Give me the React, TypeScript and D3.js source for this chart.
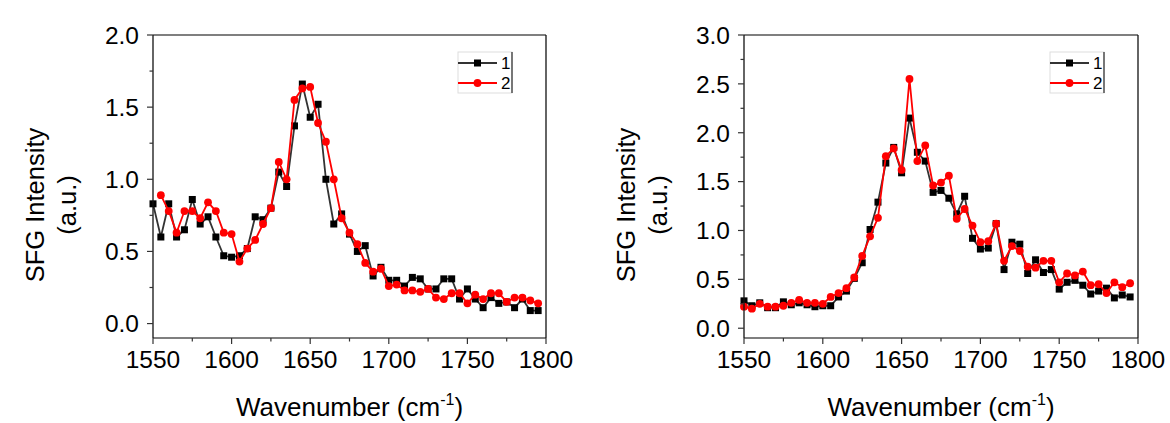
import React from "react";
import * as d3 from "d3";

const wavenumbers = [1550, 1555, 1560, 1565, 1570, 1575, 1580, 1585, 1590, 1595, 1600, 1605, 1610, 1615, 1620, 1625, 1630, 1635, 1640, 1645, 1650, 1655, 1660, 1665, 1670, 1675, 1680, 1685, 1690, 1695, 1700, 1705, 1710, 1715, 1720, 1725, 1730, 1735, 1740, 1745, 1750, 1755, 1760, 1765, 1770, 1775, 1780, 1785, 1790, 1795];

// Left panel
const leftSeries1 = [0.83, 0.60, 0.83, 0.60, 0.65, 0.86, 0.69, 0.74, 0.60, 0.47, 0.46, 0.47, 0.52, 0.74, 0.72, 0.80, 1.05, 0.95, 1.37, 1.66, 1.43, 1.52, 1.00, 0.69, 0.76, 0.62, 0.50, 0.54, 0.33, 0.39, 0.30, 0.30, 0.26, 0.32, 0.31, 0.24, 0.24, 0.31, 0.31, 0.17, 0.24, 0.17, 0.11, 0.18, 0.14, 0.15, 0.11, 0.17, 0.09, 0.09];
// starts at 1555
const leftSeries2 = [null, 0.89, 0.78, 0.63, 0.78, 0.78, 0.73, 0.84, 0.78, 0.63, 0.62, 0.43, 0.52, 0.58, 0.69, 0.80, 1.12, 1.00, 1.55, 1.63, 1.64, 1.39, 1.26, 1.00, 0.73, 0.63, 0.55, 0.42, 0.36, 0.38, 0.26, 0.27, 0.23, 0.23, 0.22, 0.24, 0.18, 0.17, 0.21, 0.21, 0.14, 0.20, 0.17, 0.21, 0.21, 0.15, 0.18, 0.18, 0.16, 0.14];

// Right panel
const rightSeries1 = [0.28, 0.23, 0.26, 0.21, 0.21, 0.27, 0.24, 0.26, 0.24, 0.22, 0.23, 0.23, 0.32, 0.38, 0.51, 0.67, 1.01, 1.29, 1.69, 1.85, 1.59, 2.15, 1.80, 1.71, 1.39, 1.41, 1.33, 1.17, 1.35, 0.92, 0.81, 0.82, 1.07, 0.60, 0.88, 0.86, 0.56, 0.70, 0.57, 0.60, 0.40, 0.47, 0.49, 0.44, 0.35, 0.38, 0.41, 0.31, 0.34, 0.32];
const rightSeries2 = [0.22, 0.20, 0.25, 0.22, 0.22, 0.23, 0.26, 0.29, 0.26, 0.26, 0.25, 0.32, 0.36, 0.41, 0.52, 0.74, 0.94, 1.13, 1.76, 1.84, 1.62, 2.55, 1.71, 1.87, 1.46, 1.49, 1.56, 1.12, 1.22, 1.05, 0.88, 0.89, 1.07, 0.69, 0.84, 0.79, 0.63, 0.62, 0.69, 0.69, 0.47, 0.56, 0.54, 0.58, 0.44, 0.45, 0.36, 0.47, 0.42, 0.46];

const xTicks = [1550, 1600, 1650, 1700, 1750, 1800];
const xMinorTicks = [1575, 1625, 1675, 1725, 1775];
const leftYTicks = [0.0, 0.5, 1.0, 1.5, 2.0];
const leftYMinor = [0.25, 0.75, 1.25, 1.75];
const rightYTicks = [0.0, 0.5, 1.0, 1.5, 2.0, 2.5, 3.0];
const rightYMinor = [0.25, 0.75, 1.25, 1.75, 2.25, 2.75];
const seriesNames = ["1", "2"];

const FONT = "'Liberation Sans', Arial, sans-serif";
const BLACK_LINE = "#333333";
const RED = "#ff0000";

type PanelProps = {
  left: number;
  right: number;
  top: number;
  bottom: number;
  yMax: number;
  yTicks: number[];
  yMinor: number[];
  s1: (number | null)[];
  s2: (number | null)[];
};

function Panel({ left, right, top, bottom, yMax, yTicks, yMinor, s1, s2 }: PanelProps) {
  const x = d3.scaleLinear().domain([1550, 1800]).range([left, right]);
  const y = d3.scaleLinear().domain([-0.1, yMax]).range([bottom, top]);
  const pts = (s: (number | null)[]) =>
    wavenumbers.map((w, i) => ({ w, v: s[i] })).filter((d) => d.v !== null && d.v !== undefined) as { w: number; v: number }[];
  const p1 = pts(s1);
  const p2 = pts(s2);
  const line = d3
    .line<{ w: number; v: number }>()
    .x((d) => x(d.w))
    .y((d) => y(d.v));
  const cx = (left + right) / 2;
  const titleCy = 205;
  const legRight = right - 34;
  const legLeft = legRight - 54;
  return (
    <g>
      {/* series 1 */}
      <path d={line(p1) || ""} fill="none" stroke={BLACK_LINE} strokeWidth={1.8} />
      {p1.map((d, i) => (
        <rect key={"s" + i} x={x(d.w) - 3.5} y={y(d.v) - 3.5} width={7} height={7} fill="#000" />
      ))}
      {/* series 2 */}
      <path d={line(p2) || ""} fill="none" stroke={RED} strokeWidth={1.8} />
      {p2.map((d, i) => (
        <circle key={"c" + i} cx={x(d.w)} cy={y(d.v)} r={3.9} fill={RED} />
      ))}

      {/* frame */}
      <line x1={left} x2={right} y1={top} y2={top} stroke="#555" strokeWidth={1.6} />
      <line x1={left} x2={right} y1={bottom} y2={bottom} stroke="#555" strokeWidth={1.6} />
      <line x1={left} x2={left} y1={top} y2={bottom} stroke="#111" strokeWidth={1.3} />
      <line x1={right} x2={right} y1={top} y2={bottom} stroke="#111" strokeWidth={1.3} />

      {/* x ticks */}
      {xTicks.map((t) => (
        <g key={"xt" + t}>
          <line x1={x(t)} x2={x(t)} y1={bottom} y2={bottom + 6} stroke="#333" strokeWidth={1.2} />
          <text x={x(t)} y={368} textAnchor="middle" fontSize={24.5} fontFamily={FONT} fill="#000">
            {t}
          </text>
        </g>
      ))}
      {xMinorTicks.map((t) => (
        <line key={"xm" + t} x1={x(t)} x2={x(t)} y1={bottom} y2={bottom + 3.5} stroke="#333" strokeWidth={1.2} />
      ))}

      {/* y ticks */}
      {yTicks.map((t) => (
        <g key={"yt" + t}>
          <line x1={left - 6} x2={left} y1={y(t)} y2={y(t)} stroke="#333" strokeWidth={1.2} />
          <text x={left - 14} y={y(t)} dy="0.36em" textAnchor="end" fontSize={24.5} fontFamily={FONT} fill="#000">
            {t.toFixed(1)}
          </text>
        </g>
      ))}
      {yMinor.map((t) => (
        <line key={"ym" + t} x1={left - 3.5} x2={left} y1={y(t)} y2={y(t)} stroke="#333" strokeWidth={1.2} />
      ))}

      {/* axis titles */}
      <text
        transform={`translate(${left - 109},${titleCy}) rotate(-90)`}
        textAnchor="middle"
        fontSize={25.5}
        fontFamily={FONT}
        fill="#000"
      >
        SFG Intensity
      </text>
      <text
        transform={`translate(${left - 77},${titleCy}) rotate(-90)`}
        textAnchor="middle"
        fontSize={25.5}
        fontFamily={FONT}
        fill="#000"
      >
        (a.u.)
      </text>
      <text x={cx} y={416} textAnchor="middle" fontSize={26} fontFamily={FONT} fill="#000">
        Wavenumber (cm
        <tspan fontSize={16} dy={-11}>
          -1
        </tspan>
        <tspan dy={11}>)</tspan>
      </text>

      {/* legend */}
      <rect x={legLeft} y={top + 17} width={54} height={41} fill="#fff" stroke="#ddd" strokeWidth={1} />
      <line x1={legRight} x2={legRight} y1={top + 17} y2={top + 58} stroke="#000" strokeWidth={1} />
      {seriesNames.map((n, i) => {
        const ly = top + 28 + i * 20;
        return (
          <g key={"lg" + n}>
            <line x1={legLeft} x2={legLeft + 39} y1={ly} y2={ly} stroke={i === 0 ? BLACK_LINE : RED} strokeWidth={1.8} />
            {i === 0 ? (
              <rect x={legLeft + 19.5 - 3.5} y={ly - 3.5} width={7} height={7} fill="#000" />
            ) : (
              <circle cx={legLeft + 19.5} cy={ly} r={3.9} fill={RED} />
            )}
            <text x={legLeft + 43} y={ly + 6} fontSize={17} fontFamily={FONT} fill="#000">
              {n}
            </text>
          </g>
        );
      })}
    </g>
  );
}

export default function App() {
  return (
    <svg
      width={1170}
      height={423}
      style={{ position: "absolute", left: 0, top: 0, background: "#fff" }}
    >
      <rect x={0} y={0} width={1170} height={423} fill="#fff" />
      <Panel left={153} right={546} top={35} bottom={338} yMax={2.0} yTicks={leftYTicks} yMinor={leftYMinor} s1={leftSeries1} s2={leftSeries2} />
      <Panel left={744} right={1138} top={35} bottom={338} yMax={3.0} yTicks={rightYTicks} yMinor={rightYMinor} s1={rightSeries1} s2={rightSeries2} />
    </svg>
  );
}
